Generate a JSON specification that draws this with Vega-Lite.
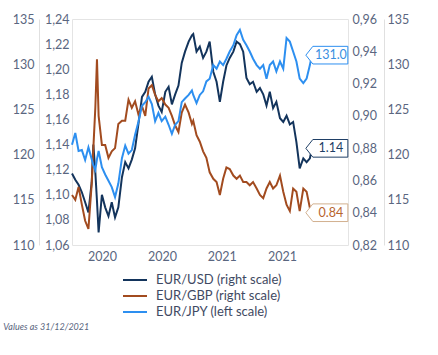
{
  "$schema": "https://vega.github.io/schema/vega-lite/v6.json",
  "width": 276,
  "height": 226,
  "autosize": "none",
  "padding": {"left": 72, "top": 19, "right": 90, "bottom": 110},
  "background": "white",
  "config": {
    "font": "Lato",
    "view": {"stroke": "#e4e4e4", "strokeWidth": 1},
    "axis": {"labelFont": "Lato", "labelFontSize": 12.5, "labelColor": "#5a6680", "ticks": false, "grid": false, "domainColor": "#e0e0e0"}
  },
  "title": {"text": "Values as 31/12/2021", "orient": "bottom", "anchor": "start", "offset": 4, "dx": -9, "fontSize": 9, "fontStyle": "italic", "fontWeight": "normal", "color": "#5a6680", "font": "Lato"},
  "data": {"values": [
    {"date": "2020-01-01", "usd": 1.117, "jpy": 121.1, "gbp": 0.851},
    {"date": "2020-01-11", "usd": 1.112, "jpy": 122.4, "gbp": 0.848},
    {"date": "2020-01-21", "usd": 1.108, "jpy": 120.4, "gbp": 0.856},
    {"date": "2020-01-31", "usd": 1.102, "jpy": 120.5, "gbp": 0.845},
    {"date": "2020-02-10", "usd": 1.094, "jpy": 119.4, "gbp": 0.835},
    {"date": "2020-02-20", "usd": 1.086, "jpy": 120.8, "gbp": 0.830},
    {"date": "2020-03-01", "usd": 1.110, "jpy": 119.5, "gbp": 0.858},
    {"date": "2020-03-06", "usd": 1.140, "jpy": 118.8, "gbp": 0.880},
    {"date": "2020-03-12", "usd": 1.118, "jpy": 118.3, "gbp": 0.905},
    {"date": "2020-03-17", "usd": 1.095, "jpy": 119.5, "gbp": 0.935},
    {"date": "2020-03-22", "usd": 1.070, "jpy": 120.4, "gbp": 0.900},
    {"date": "2020-04-01", "usd": 1.100, "jpy": 118.6, "gbp": 0.882},
    {"date": "2020-04-11", "usd": 1.090, "jpy": 117.8, "gbp": 0.882},
    {"date": "2020-04-21", "usd": 1.083, "jpy": 117.1, "gbp": 0.874},
    {"date": "2020-05-01", "usd": 1.094, "jpy": 116.4, "gbp": 0.878},
    {"date": "2020-05-11", "usd": 1.082, "jpy": 115.3, "gbp": 0.880},
    {"date": "2020-05-21", "usd": 1.090, "jpy": 116.8, "gbp": 0.895},
    {"date": "2020-06-01", "usd": 1.114, "jpy": 119.6, "gbp": 0.897},
    {"date": "2020-06-11", "usd": 1.126, "jpy": 121.0, "gbp": 0.897},
    {"date": "2020-06-21", "usd": 1.121, "jpy": 120.1, "gbp": 0.910},
    {"date": "2020-07-01", "usd": 1.128, "jpy": 120.5, "gbp": 0.905},
    {"date": "2020-07-11", "usd": 1.137, "jpy": 122.2, "gbp": 0.909},
    {"date": "2020-07-21", "usd": 1.156, "jpy": 123.6, "gbp": 0.901},
    {"date": "2020-08-01", "usd": 1.178, "jpy": 125.4, "gbp": 0.906},
    {"date": "2020-08-11", "usd": 1.182, "jpy": 125.8, "gbp": 0.900},
    {"date": "2020-08-21", "usd": 1.190, "jpy": 126.4, "gbp": 0.917},
    {"date": "2020-08-31", "usd": 1.194, "jpy": 125.6, "gbp": 0.919},
    {"date": "2020-09-10", "usd": 1.180, "jpy": 123.7, "gbp": 0.913},
    {"date": "2020-09-20", "usd": 1.171, "jpy": 124.6, "gbp": 0.909},
    {"date": "2020-09-30", "usd": 1.166, "jpy": 123.7, "gbp": 0.911},
    {"date": "2020-10-11", "usd": 1.182, "jpy": 124.2, "gbp": 0.907},
    {"date": "2020-10-21", "usd": 1.186, "jpy": 123.3, "gbp": 0.905},
    {"date": "2020-10-31", "usd": 1.172, "jpy": 122.3, "gbp": 0.900},
    {"date": "2020-11-10", "usd": 1.180, "jpy": 123.3, "gbp": 0.894},
    {"date": "2020-11-20", "usd": 1.187, "jpy": 123.7, "gbp": 0.890},
    {"date": "2020-11-30", "usd": 1.205, "jpy": 125.8, "gbp": 0.902},
    {"date": "2020-12-10", "usd": 1.214, "jpy": 126.2, "gbp": 0.907},
    {"date": "2020-12-21", "usd": 1.222, "jpy": 126.6, "gbp": 0.902},
    {"date": "2020-12-31", "usd": 1.227, "jpy": 127.1, "gbp": 0.895},
    {"date": "2021-01-04", "usd": 1.228, "jpy": 126.6, "gbp": 0.897},
    {"date": "2021-01-14", "usd": 1.214, "jpy": 125.7, "gbp": 0.888},
    {"date": "2021-01-24", "usd": 1.218, "jpy": 126.6, "gbp": 0.884},
    {"date": "2021-02-03", "usd": 1.209, "jpy": 127.0, "gbp": 0.878},
    {"date": "2021-02-13", "usd": 1.214, "jpy": 128.1, "gbp": 0.874},
    {"date": "2021-02-23", "usd": 1.222, "jpy": 128.4, "gbp": 0.865},
    {"date": "2021-03-06", "usd": 1.198, "jpy": 129.9, "gbp": 0.861},
    {"date": "2021-03-16", "usd": 1.190, "jpy": 129.5, "gbp": 0.859},
    {"date": "2021-03-26", "usd": 1.174, "jpy": 130.3, "gbp": 0.851},
    {"date": "2021-04-05", "usd": 1.190, "jpy": 129.9, "gbp": 0.861},
    {"date": "2021-04-15", "usd": 1.203, "jpy": 130.6, "gbp": 0.868},
    {"date": "2021-04-25", "usd": 1.209, "jpy": 131.4, "gbp": 0.867},
    {"date": "2021-05-06", "usd": 1.214, "jpy": 132.1, "gbp": 0.863},
    {"date": "2021-05-16", "usd": 1.222, "jpy": 133.2, "gbp": 0.861},
    {"date": "2021-05-26", "usd": 1.220, "jpy": 133.8, "gbp": 0.863},
    {"date": "2021-06-05", "usd": 1.214, "jpy": 132.7, "gbp": 0.859},
    {"date": "2021-06-15", "usd": 1.193, "jpy": 132.1, "gbp": 0.859},
    {"date": "2021-06-25", "usd": 1.188, "jpy": 131.4, "gbp": 0.857},
    {"date": "2021-07-05", "usd": 1.190, "jpy": 130.6, "gbp": 0.859},
    {"date": "2021-07-16", "usd": 1.182, "jpy": 129.9, "gbp": 0.855},
    {"date": "2021-07-26", "usd": 1.185, "jpy": 129.5, "gbp": 0.851},
    {"date": "2021-08-05", "usd": 1.180, "jpy": 129.9, "gbp": 0.849},
    {"date": "2021-08-15", "usd": 1.171, "jpy": 128.4, "gbp": 0.855},
    {"date": "2021-08-25", "usd": 1.182, "jpy": 129.9, "gbp": 0.859},
    {"date": "2021-09-04", "usd": 1.169, "jpy": 130.3, "gbp": 0.855},
    {"date": "2021-09-14", "usd": 1.174, "jpy": 129.2, "gbp": 0.857},
    {"date": "2021-09-25", "usd": 1.161, "jpy": 130.3, "gbp": 0.863},
    {"date": "2021-10-05", "usd": 1.158, "jpy": 129.5, "gbp": 0.853},
    {"date": "2021-10-15", "usd": 1.163, "jpy": 132.9, "gbp": 0.845},
    {"date": "2021-10-25", "usd": 1.156, "jpy": 132.5, "gbp": 0.841},
    {"date": "2021-11-04", "usd": 1.158, "jpy": 131.4, "gbp": 0.855},
    {"date": "2021-11-14", "usd": 1.142, "jpy": 130.3, "gbp": 0.853},
    {"date": "2021-11-24", "usd": 1.121, "jpy": 128.4, "gbp": 0.841},
    {"date": "2021-12-05", "usd": 1.129, "jpy": 127.9, "gbp": 0.855},
    {"date": "2021-12-15", "usd": 1.126, "jpy": 128.4, "gbp": 0.853},
    {"date": "2021-12-25", "usd": 1.129, "jpy": 129.9, "gbp": 0.843},
    {"date": "2021-12-31", "usd": 1.137, "jpy": 131.0, "gbp": 0.840}
  ]},
  "encoding": {
    "x": {
      "field": "date", "type": "temporal",
      "scale": {"domain": ["2020-01-01", "2022-04-20"]},
      "axis": {
        "title": null, "format": "%Y", "domain": false, "labelPadding": 5,
        "values": [
          {"year": 2020, "month": 4, "date": 1, "utc": true},
          {"year": 2020, "month": 10, "date": 1, "utc": true},
          {"year": 2021, "month": 4, "date": 1, "utc": true},
          {"year": 2021, "month": 10, "date": 1, "utc": true}
        ]
      }
    }
  },
  "layer": [
    {
      "encoding": {
        "y": {"field": "usd", "type": "quantitative",
          "scale": {"domain": [1.06, 1.24], "nice": false, "zero": false},
          "axis": {"orient": "left", "offset": 0, "title": null, "domain": false, "labelPadding": 3,
            "values": [1.06, 1.08, 1.1, 1.12, 1.14, 1.16, 1.18, 1.2, 1.22, 1.24],
            "labelExpr": "replace(format(datum.value, '.2f'), '.', ',')"}}
      },
      "layer": [
        {"mark": {"type": "line", "strokeWidth": 2},
         "encoding": {"color": {"datum": "EUR/USD (right scale)", "type": "nominal",
            "scale": {"domain": ["EUR/USD (right scale)", "EUR/GBP (right scale)", "EUR/JPY (left scale)"], "range": ["#13345c", "#a24b1f", "#2d8ff0"]},
            "legend": {"orient": "none", "legendX": 56, "legendY": 254, "title": null, "symbolType": "M -2 0 L 2 0", "symbolStrokeWidth": 2, "symbolSize": 144, "labelFontSize": 13, "labelColor": "#3f4a63", "labelFont": "Lato", "labelOffset": 14, "rowPadding": 2}}}},
        {"transform": [{"filter": "toDate(datum.date) > toDate('2021-12-28')"}],
         "mark": {"type": "point", "shape": "M -1 0 L -0.667 -0.42 L 1 -0.42 L 1 0.42 L -0.667 0.42 Z", "size": 1764, "filled": true, "fill": "white", "stroke": "#1f3f66", "strokeWidth": 1, "opacity": 1, "xOffset": 15}},
        {"transform": [{"filter": "toDate(datum.date) > toDate('2021-12-28')"}],
         "mark": {"type": "text", "align": "center", "baseline": "middle", "dx": 19, "fontSize": 12.5, "color": "#1f3f66", "font": "Lato"},
         "encoding": {"text": {"field": "usd", "type": "quantitative", "format": ".2f"}}}
      ]
    },
    {
      "encoding": {
        "y": {"field": "gbp", "type": "quantitative",
          "scale": {"domain": [0.82, 0.96], "nice": false, "zero": false},
          "axis": {"orient": "right", "offset": 0, "title": null, "domain": false, "labelPadding": 4,
            "values": [0.82, 0.84, 0.86, 0.88, 0.9, 0.92, 0.94, 0.96],
            "labelExpr": "replace(format(datum.value, '.2f'), '.', ',')"}}
      },
      "layer": [
        {"mark": {"type": "line", "strokeWidth": 2},
         "encoding": {"color": {"datum": "EUR/GBP (right scale)", "type": "nominal"}}},
        {"transform": [{"filter": "toDate(datum.date) > toDate('2021-12-28')"}],
         "mark": {"type": "point", "shape": "M -1 0 L -0.667 -0.42 L 1 -0.42 L 1 0.42 L -0.667 0.42 Z", "size": 1764, "filled": true, "fill": "white", "stroke": "#d2b08f", "strokeWidth": 1, "opacity": 1, "xOffset": 15}},
        {"transform": [{"filter": "toDate(datum.date) > toDate('2021-12-28')"}],
         "mark": {"type": "text", "align": "center", "baseline": "middle", "dx": 19, "fontSize": 12.5, "color": "#b8652e", "font": "Lato"},
         "encoding": {"text": {"field": "gbp", "type": "quantitative", "format": ".2f"}}}
      ]
    },
    {
      "encoding": {
        "y": {"field": "jpy", "type": "quantitative",
          "scale": {"domain": [110, 135], "nice": false, "zero": false},
          "axis": {"orient": "left", "offset": 33, "title": null, "domain": true, "labelPadding": 5,
            "values": [110, 115, 120, 125, 130, 135], "format": "d"}}
      },
      "layer": [
        {"mark": {"type": "line", "strokeWidth": 2},
         "encoding": {"color": {"datum": "EUR/JPY (left scale)", "type": "nominal"}}},
        {"transform": [{"filter": "toDate(datum.date) > toDate('2021-12-28')"}],
         "mark": {"type": "point", "shape": "M -1 0 L -0.667 -0.42 L 1 -0.42 L 1 0.42 L -0.667 0.42 Z", "size": 1764, "filled": true, "fill": "white", "stroke": "#2d8ff0", "strokeWidth": 1, "opacity": 1, "xOffset": 15}},
        {"transform": [{"filter": "toDate(datum.date) > toDate('2021-12-28')"}],
         "mark": {"type": "text", "align": "center", "baseline": "middle", "dx": 19, "fontSize": 12.5, "color": "#3a8fe0", "font": "Lato"},
         "encoding": {"text": {"field": "jpy", "type": "quantitative", "format": ".1f"}}}
      ]
    },
    {
      "mark": {"type": "line", "opacity": 0},
      "encoding": {
        "y": {"field": "jpy", "type": "quantitative",
          "scale": {"domain": [110, 135], "nice": false, "zero": false},
          "axis": {"orient": "right", "offset": 36, "title": null, "domain": true, "labelPadding": 3,
            "values": [110, 115, 120, 125, 130, 135], "format": "d"}}
      }
    }
  ],
  "resolve": {"scale": {"y": "independent"}}
}
